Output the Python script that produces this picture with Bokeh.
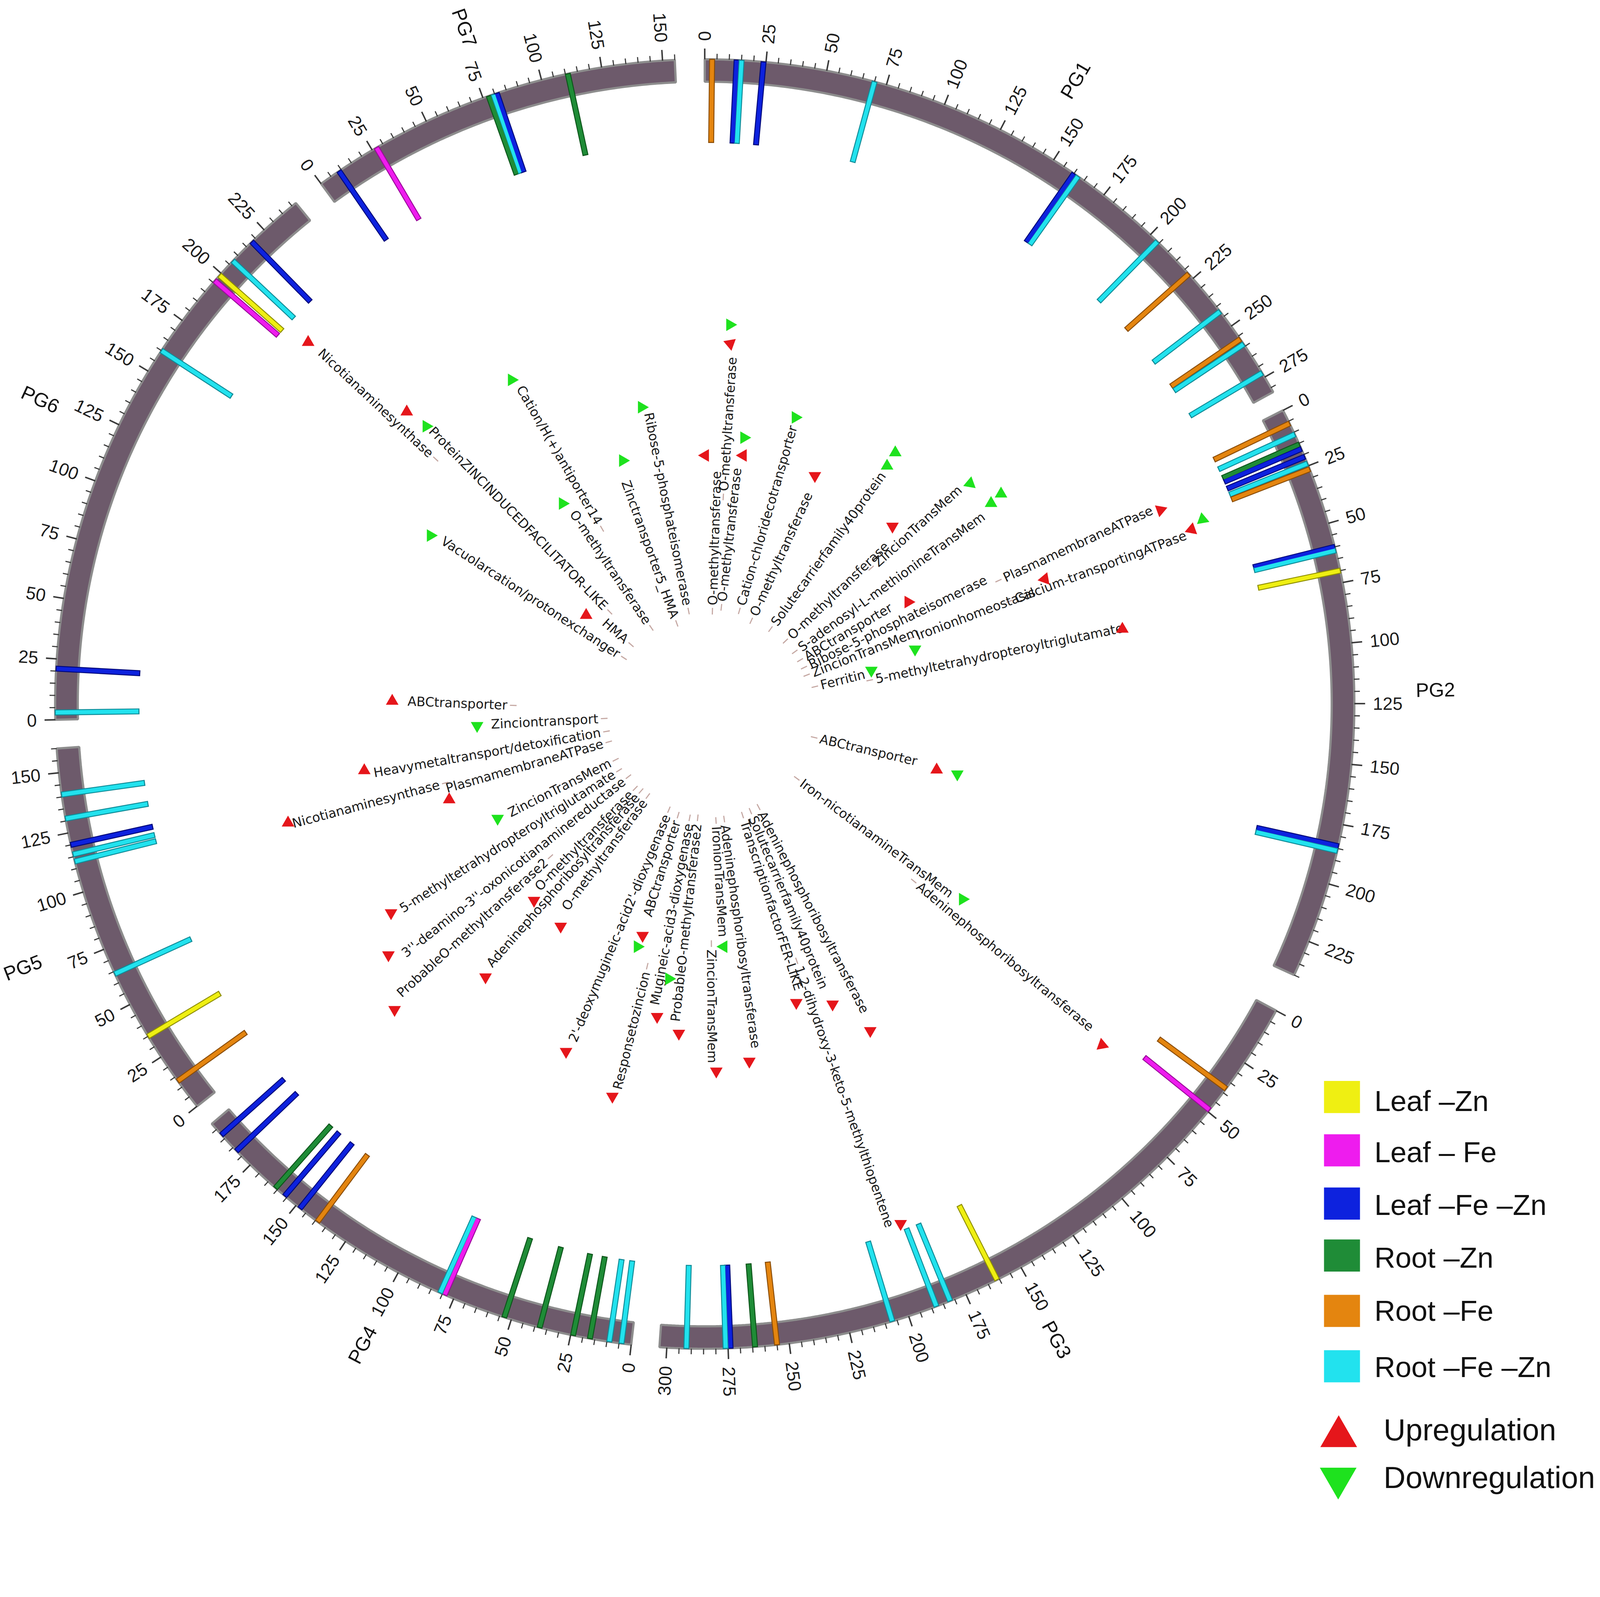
import math
from bokeh.plotting import figure
from bokeh.models import Range1d
from bokeh.embed import file_html
from bokeh.resources import INLINE
from bokeh.core.properties import value

# ---------------- data ----------------
chrom_names = ["PG1", "PG2", "PG3", "PG4", "PG5", "PG6", "PG7"]
chrom_len = [282, 240, 303, 198, 160, 242, 155]          # Mb

cond_names = ["Leaf \u2013Zn", "Leaf \u2013 Fe", "Leaf \u2013Fe \u2013Zn",
              "Root \u2013Zn", "Root \u2013Fe", "Root \u2013Fe \u2013Zn"]
reg_names = ["Upregulation", "Downregulation"]

# differentially expressed gene positions (chromosome, Mb, condition index)
bar_chrom = (["PG1"] * 13 + ["PG2"] * 12 + ["PG3"] * 11 + ["PG4"] * 14 +
             ["PG5"] * 8 + ["PG6"] * 7 + ["PG7"] * 6)
bar_pos = [3, 13, 15, 24, 70, 160, 162, 204, 222.5, 242.5, 256.5, 259, 273,
           6, 11, 15.5, 17.5, 21, 24, 26.5, 60, 61.5, 70, 184, 186,
           38, 49, 161, 182, 188, 207, 255, 264, 274, 276, 292,
           4, 9, 17, 24, 38, 53, 79, 81, 139, 148, 156, 161, 183, 192,
           13, 35, 64, 113, 116, 120, 131, 141,
           3, 21, 160, 196, 199, 207, 218,
           9, 27, 77.5, 79.5, 81, 111]
bar_cond = [4, 2, 5, 2, 5, 2, 5, 5, 4, 5, 4, 5, 5,
            4, 5, 3, 2, 2, 5, 4, 2, 5, 0, 2, 5,
            4, 1, 0, 5, 5, 5, 4, 3, 2, 5, 5,
            5, 5, 3, 3, 3, 3, 1, 5, 4, 2, 2, 3, 2, 2,
            4, 0, 5, 5, 5, 2, 5, 5,
            5, 2, 5, 1, 0, 5, 2,
            2, 1, 3, 5, 2, 3]

gene_names = [
    "Nicotianaminesynthase", "ProteinZINCINDUCEDFACILITATOR-LIKE",
    "Vacuolarcation/protonexchanger", "HMA", "Cation/H(+)antiporter14",
    "O-methyltransferase", "Zinctransporter5_HMA", "Ribose-5-phosphateisomerase",
    "O-methyltransferase", "O-methyltransferase", "O-methyltransferase",
    "Cation-chloridecotransporter", "O-methyltransferase",
    "Solutecarrierfamily40protein", "O-methyltransferase", "ZincionTransMem",
    "S-adenosyl-L-methionineTransMem", "ABCtransporter",
    "Ribose-5-phosphateisomerase", "PlasmamembraneATPase", "ZincionTransMem",
    "Ironionhomeostasis", "Calcium-transportingATPase", "Ferritin",
    "5-methyltetrahydropteroyltriglutamate", "ABCtransporter",
    "Iron-nicotianamineTransMem", "Adeninephosphoribosyltransferase",
    "Adeninephosphoribosyltransferase", "Solutecarrierfamily40protein",
    "TranscriptionfactorFER-LIKE", "1,2-dihydroxy-3-keto-5-methylthiopentene",
    "Adeninephosphoribosyltransferase", "IronionTransMem", "ZincionTransMem",
    "ProbableO-methyltransferase2", "Mugineic-acid3-dioxygenase", "ABCtransporter",
    "2'-deoxymugineic-acid2'-dioxygenase", "Responsetozincion",
    "O-methyltransferase", "Adeninephosphoribosyltransferase", "O-methyltransferase",
    "ProbableO-methyltransferase2", "3''-deamino-3''-oxonicotianaminereductase",
    "5-methyltetrahydropteroyltriglutamate", "ZincionTransMem",
    "PlasmamembraneATPase", "Nicotianaminesynthase",
    "Heavymetaltransport/detoxification", "Zinciontransport", "ABCtransporter"]

# regulation markers: 1 = up (red), 0 = down (green)
tri_up = [1] * 36 + [0] * 24

# ---------------- layout (angles clockwise from north, radii in picture units) ----------------
DEG_PER_MB = 0.2165
chrom_start = [0.0, 62.9, 118.4, 186.5, 231.4, 268.6, 323.8]
chrom_label_r = [710, 711, 711, 711, 712, 712, 703]

lab_phi = [313.1, 315.7, 303.1, 311.4, 330.0, 326.0, 340.2, 348.6, 1.7, 6.4, 3.65,
           16.2, 24.2, 35.8, 46.3, 47.9, 54.1, 59.5, 64.1, 65.2, 68.5, 69.4, 69.4,
           75.8, 78.3, 103.1, 126.9, 129.6, 152.5, 157.4, 162.1, 160.7, 172.1, 176.5,
           179.5, 186.3, 190.6, 196.9, 202.6, 193.7, 216.4, 221.1, 224.4, 227.7, 231.7,
           237.5, 243.4, 254.0, 255.1, 259.9, 267.1, 272.3]
lab_r = [370.4, 144.5, 105.0, 107.3, 214.6, 106.7, 99.3, 107.9, 105.8, 110.2, 218.2,
         110.2, 105.1, 107.4, 108.1, 217.9, 108.3, 108.2, 108.1, 315.6, 107.5, 215.2,
         317.8, 111.6, 165.1, 110.4, 112.1, 263.8, 109.5, 109.7, 110.7, 262.9, 110.5,
         111.1, 231.6, 108.9, 110.1, 110.2, 108.2, 261.0, 106.6, 106.9, 108.9, 214.8,
         106.1, 109.9, 107.7, 107.6, 271.7, 107.4, 108.2, 196.7]

tri_phi = [359.1, 3.2, 7.4, 23.8, 44.2, 60.6, 65.6, 68.05, 69.0, 78.4, 104.1, 130.4,
           153.3, 157.2, 163.4, 159.6, 173.5, 178.9, 185.4, 189.7, 196.6, 202.8, 194.1,
           214.7, 220.1, 222.9, 226.5, 232.8, 237.7, 251.5, 255.3, 260.5, 272.2, 308.7,
           312.97, 315.1,
           3.0, 7.1, 347.6, 341.2, 16.1, 35.3, 35.5, 48.4, 53.1, 52.85, 68.4, 72.6, 75.1,
           103.9, 126.5, 176.5, 188.6, 197.0, 243.4, 266.9, 315.6, 325.2, 329.5, 302.7]
tri_r = [252.7, 362.8, 254.8, 254.4, 255.5, 222.0, 482.0, 351.8, 502.5, 410.2, 228.0,
         501.8, 348.4, 309.4, 296.1, 533.9, 343.5, 351.0, 315.3, 301.7, 227.4, 359.8,
         387.3, 254.1, 338.1, 250.6, 422.2, 392.0, 366.4, 266.9, 423.8, 340.4, 308.8,
         153.6, 533.5, 417.1,
         381.3, 272.2, 307.1, 261.6, 301.8, 313.0, 297.7, 339.2, 342.7, 356.0, 516.1,
         209.7, 163.1, 248.5, 306.5, 229.3, 263.3, 239.3, 230.4, 226.3, 393.7, 250.3,
         379.2, 322.4]
tri_apex = [180, 160, 180, 270, 270, 0, 20, 70, 80, 90, 90, 100,
            270, 270, 270, 270, 270, 270, 270, 270, 270, 270, 270,
            270, 270, 270, 270, 270, 270, 90, 90, 90, 90, 90, 90, 90,
            0, 0, 0, 0, 0, 90, 90, 80, 90, 90, 100, 270, 270,
            270, 0, 180, 0, 0, 270, 270, 0, 0, 0, 0]

# ---------------- geometry helpers ----------------
DX, DY = 1.049, 1.057          # observed page magnification (compensated)
DM = (DX + DY) / 2
S = 4328 / 1568.0              # target pixels per picture unit
SX, SY = S / DX, S / DY        # css pixels per picture unit
W, H = int(4312 / DX) - 2, int(4072 / DY) - 2
IMG_H = 1481
RCX, RCY = 688.5, IMG_H - 693.0     # ring centre
LCX, LCY = 693.0, IMG_H - 702.0     # label layer centre
R_IN, R_OUT = 610.0, 632.0
BAR_IN = 551.0


def px(v):
    return v / DM


def fpx(v):
    return "%.1fpx" % (v / DM)


cond_colors = ["#efef12", "#ee1cee", "#0d22de", "#1f8c37", "#e4850f", "#22e2ee"]
cond_edges = ["#8f8f00", "#9a0a9a", "#00087a", "#0c5419", "#8a4c06", "#0f8a96"]
UP_COL, DOWN_COL = "#e5161b", "#1ee21e"


def pol(x0, y0, phi, r):
    a = math.radians(phi)
    return x0 + r * math.sin(a), y0 + r * math.cos(a)


def radial_text_angle(phi):
    phi %= 360.0
    if phi < 180.0:
        return math.radians(90.0 - phi), "left"
    return math.radians(270.0 - phi), "right"


def mb_angle(chrom, pos):
    i = chrom_names.index(chrom)
    return chrom_start[i] + pos * DEG_PER_MB


x0r = 8 / SX
ytop = IMG_H - 8 / SY
p = figure(width=W, height=H,
           x_range=Range1d(x0r, x0r + W / SX),
           y_range=Range1d(ytop - H / SY, ytop),
           output_backend="svg", toolbar_location=None, min_border=0)
p.axis.visible = False
p.grid.visible = False
p.outline_line_color = None
p.background_fill_color = "white"
p.border_fill_color = "white"

# ---------------- chromosome ring (polygons in data space) ----------------
ring_xs, ring_ys = [], []
for s, L in zip(chrom_start, chrom_len):
    e = s + L * DEG_PER_MB
    n = max(8, int((e - s) * 3))
    angs = [s + (e - s) * i / n for i in range(n + 1)]
    outer = [pol(RCX, RCY, a, R_OUT) for a in angs]
    inner = [pol(RCX, RCY, a, R_IN) for a in reversed(angs)]
    pts = outer + inner
    ring_xs.append([q[0] for q in pts])
    ring_ys.append([q[1] for q in pts])
p.patches(xs=ring_xs, ys=ring_ys, fill_color="#6d5a6b", line_color="#8d8d8d",
          line_width=px(6))

# ---------------- ticks and tick labels ----------------
maj = [[], [], [], []]
mnr = [[], [], [], []]
tl = {"left": [[], [], [], []], "right": [[], [], [], []]}
for ci, L in enumerate(chrom_len):
    for v in range(0, L + 1, 5):
        phi = chrom_start[ci] + v * DEG_PER_MB
        big = (v % 25 == 0)
        xa, ya = pol(RCX, RCY, phi, R_OUT)
        xb, yb = pol(RCX, RCY, phi, R_OUT + (10.5 if big else 5.5))
        tgt = maj if big else mnr
        tgt[0].append(xa); tgt[1].append(ya); tgt[2].append(xb); tgt[3].append(yb)
        if big:
            ang, al = radial_text_angle(phi)
            tx, ty = pol(RCX, RCY, phi, 650.0)
            tl[al][0].append(tx); tl[al][1].append(ty)
            tl[al][2].append(str(v)); tl[al][3].append(ang)
p.segment(x0=mnr[0], y0=mnr[1], x1=mnr[2], y1=mnr[3], line_color="#3a3a3a", line_width=px(3))
p.segment(x0=maj[0], y0=maj[1], x1=maj[2], y1=maj[3], line_color="#3a3a3a", line_width=px(4))
for al in ("left", "right"):
    d = tl[al]
    p.text(x=d[0], y=d[1], text=d[2], angle=d[3], text_align=al,
           text_baseline="middle", text_font=value("Liberation Sans"),
           text_font_size=fpx(48), text_color="#1c1c1c")

# chromosome names
for al in ("left", "right"):
    xs, ys, ts, angs = [], [], [], []
    for ci, name in enumerate(chrom_names):
        phi = chrom_start[ci] + chrom_len[ci] * DEG_PER_MB / 2
        ang, a2 = radial_text_angle(phi)
        if a2 != al:
            continue
        x, y = pol(RCX, RCY, phi, chrom_label_r[ci])
        xs.append(x); ys.append(y); ts.append(name); angs.append(ang)
    p.text(x=xs, y=ys, text=ts, angle=angs, text_align="center",
           text_baseline="middle", text_font=value("Liberation Sans"),
           text_font_size=fpx(53), text_color="#111111")

# ---------------- gene bars ----------------
ex, ey, ex1, ey1, fx, fy, fx1, fy1, fc, ec = ([] for _ in range(10))
for c, pos, k in zip(bar_chrom, bar_pos, bar_cond):
    phi = mb_angle(c, pos)
    a, b = pol(RCX, RCY, phi, BAR_IN - 1.0)
    c1, d1 = pol(RCX, RCY, phi, R_OUT + 0.5)
    ex.append(a); ey.append(b); ex1.append(c1); ey1.append(d1); ec.append(cond_edges[k])
    a, b = pol(RCX, RCY, phi, BAR_IN)
    c1, d1 = pol(RCX, RCY, phi, R_OUT - 0.5)
    fx.append(a); fy.append(b); fx1.append(c1); fy1.append(d1); fc.append(cond_colors[k])
p.segment(x0=ex, y0=ey, x1=ex1, y1=ey1, line_color=ec, line_width=px(16))
p.segment(x0=fx, y0=fy, x1=fx1, y1=fy1, line_color=fc, line_width=px(11))

# ---------------- gene labels ----------------
dx0, dy0, dx1, dy1 = [], [], [], []
lab = {"left": [[], [], [], []], "right": [[], [], [], []]}
for name, phi, r in zip(gene_names, lab_phi, lab_r):
    x, y = pol(LCX, LCY, phi, r)
    ang, al = radial_text_angle(phi)
    lab[al][0].append(x); lab[al][1].append(y); lab[al][2].append(name); lab[al][3].append(ang)
    a, b = pol(LCX, LCY, phi, r - 9.0)
    c1, d1 = pol(LCX, LCY, phi, r - 2.5)
    dx0.append(a); dy0.append(b); dx1.append(c1); dy1.append(d1)
p.segment(x0=dx0, y0=dy0, x1=dx1, y1=dy1, line_color="#c4a7a2", line_width=px(3))
for al in ("left", "right"):
    d = lab[al]
    p.text(x=d[0], y=d[1], text=d[2], angle=d[3], text_align=al,
           text_baseline="middle", text_font=value("DejaVu Sans"),
           text_font_size=fpx(35), text_color="#1a1a1a")

# ---------------- regulation triangles ----------------
txs, tys, tang, tcol = [], [], [], []
for up, phi, r, apex in zip(tri_up, tri_phi, tri_r, tri_apex):
    x, y = pol(LCX, LCY, phi, r)
    txs.append(x); tys.append(y)
    tang.append(math.radians(apex - 90.0))
    tcol.append(UP_COL if up else DOWN_COL)
p.scatter(x=txs, y=tys, marker="triangle", size=px(34), angle=tang,
          fill_color=tcol, line_color=None)

# ---------------- legend ----------------
sq_y = [1078.2, 1130.5, 1182.7, 1233.6, 1287.9, 1342.2]
tx_mid = [1082.3, 1132.5, 1184.0, 1235.6, 1287.9, 1342.9]
p.rect(x=[1308.5] * 6, y=[IMG_H - v for v in sq_y], width=35, height=31.5,
       fill_color=cond_colors, line_color=None)
p.text(x=[1340.0] * 6, y=[IMG_H - v for v in tx_mid], text=cond_names,
       text_align="left", text_baseline="middle",
       text_font=value("Liberation Sans"), text_font_size=fpx(78), text_color="#111111")
p.scatter(x=[1305.3, 1304.8], y=[IMG_H - 1411.0, IMG_H - 1452.0], marker="triangle",
          size=px(99), angle=[0.0, math.pi], fill_color=[UP_COL, DOWN_COL], line_color=None)
p.text(x=[1349.0, 1349.0], y=[IMG_H - 1404.5, IMG_H - 1451.0], text=reg_names,
       text_align="left", text_baseline="middle",
       text_font=value("Liberation Sans"), text_font_size=fpx(82), text_color="#111111")

open("out.html", "w").write(file_html(p, INLINE))
